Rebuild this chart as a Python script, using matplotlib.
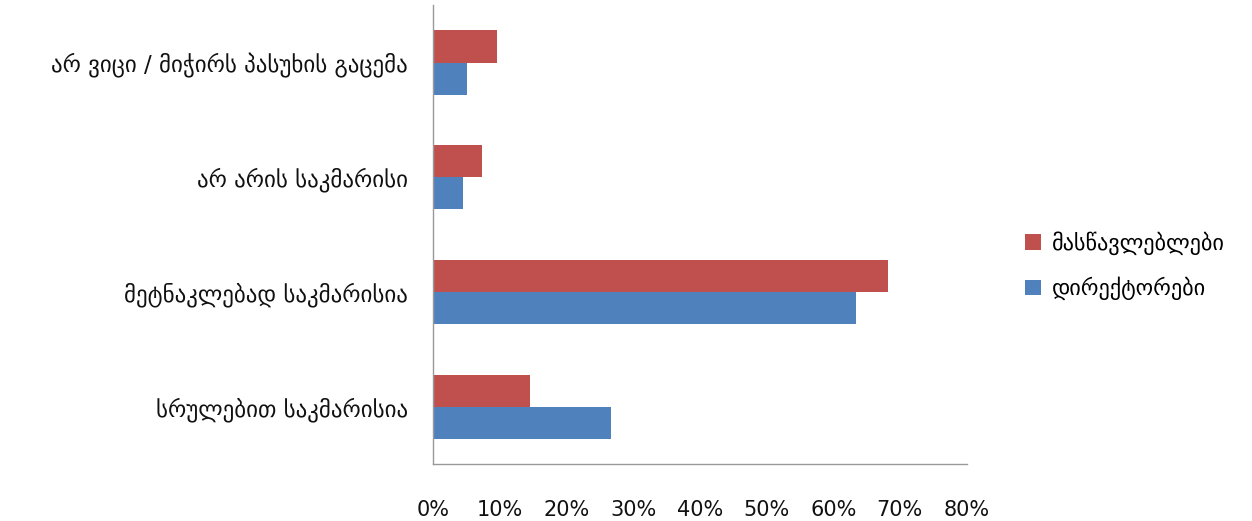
import numpy as np
import matplotlib.pyplot as plt
from matplotlib.ticker import PercentFormatter

categories = ["სრულებით საკმარისია", "მეტნაკლებად საკმარისია",
              "არ არის საკმარისი", "არ ვიცი / მიჭირს პასუხის გაცემა"]
teachers = [14.5, 68.2, 7.3, 9.6]
directors = [26.7, 63.4, 4.5, 5.1]
series_names = ["მასწავლებლები", "დირექტორები"]

RED = "#C0504D"
BLUE = "#4F81BD"

plt.rcParams['font.family'] = ['DejaVu Sans']

fig = plt.figure(figsize=(12.52, 5.21), dpi=100)
ax = fig.add_axes([0.346, 0.109, 0.426, 0.881])

y = np.arange(len(categories))
h = 0.28
ax.barh(y + h / 2, teachers, height=h, color=RED, label=series_names[0])
ax.barh(y - h / 2, directors, height=h, color=BLUE, label=series_names[1])

ax.set_xlim(0, 80)
ax.set_ylim(-0.5, len(categories) - 0.5)
ax.set_xticks(range(0, 81, 10))
ax.xaxis.set_major_formatter(PercentFormatter(decimals=0))
ax.set_yticks(y)
ax.set_yticklabels(categories)
ax.tick_params(axis='x', length=0, pad=26, labelsize=15, colors='#111111')
ax.tick_params(axis='y', length=0, pad=18, labelsize=16.5, colors='#111111')

for s in ['top', 'right']:
    ax.spines[s].set_visible(False)
for s in ['left', 'bottom']:
    ax.spines[s].set_color('#999999')
    ax.spines[s].set_linewidth(1)

fig.legend(loc='center left', bbox_to_anchor=(0.803, 0.49), frameon=False,
           fontsize=16, handlelength=0.7, handleheight=0.7, handletextpad=0.5,
           labelspacing=1.0)

fig.savefig("out.png", dpi=100)
